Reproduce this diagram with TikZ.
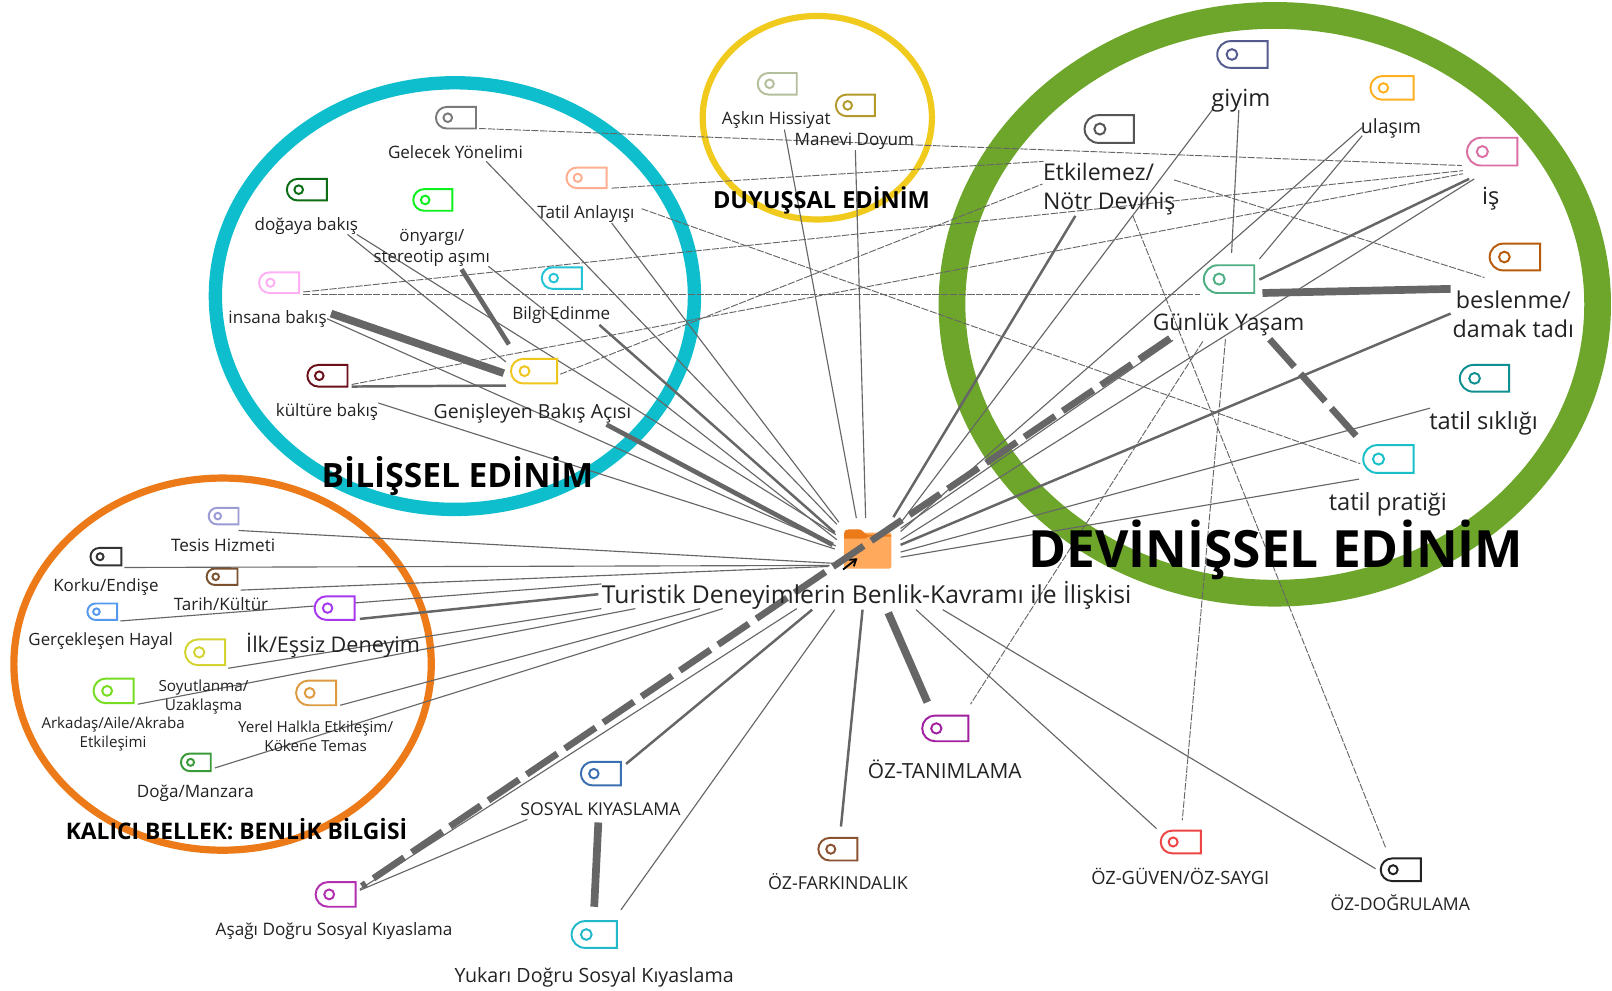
\documentclass[tikz,border=0pt]{standalone}
\usepackage{fontspec}
\setmainfont{Open Sans}
\usetikzlibrary{shapes.misc,arrows.meta}
\definecolor{linkgray}{HTML}{666666}
\definecolor{inkc}{HTML}{222222}
\definecolor{ringgreen}{HTML}{6DA62B}
\definecolor{ringteal}{HTML}{0FBECC}
\definecolor{ringorange}{HTML}{EC7A18}
\definecolor{ringyellow}{HTML}{F0CB1E}
\definecolor{folderbody}{HTML}{FFA95C}
\tikzset{
  x=1pt,y=-1pt,
  ln/.style={draw=linkgray,line width=1.1pt},
  lnm/.style={draw=linkgray,line width=2.4pt},
  lnt/.style={draw=linkgray,line width=4.5pt},
  lnx/.style={draw=linkgray,line width=7.5pt},
  lnd/.style={draw=linkgray,line width=0.9pt,dash pattern=on 7pt off 1.5pt},
  lnthickdash/.style={draw=linkgray,line width=6.5pt,dash pattern=on 36pt off 9pt},
  tagbox/.style={rounded rectangle,rounded rectangle right arc=none,inner sep=0pt,fill=white,line width=1.9pt},
  lbl/.style={text=inkc,inner sep=0pt,align=center,font=\fontsize{#1}{#1}\selectfont},
  lbltwo/.style 2 args={text=inkc,inner sep=0pt,align=center,font=\fontsize{#1}{#2}\selectfont},
  head/.style={text=black,inner sep=0pt,align=center,font=\fontsize{#1}{#1}\bfseries\selectfont},
}
% name, x-left, y-top, x-right, y-bottom, colour
\newcommand{\tagicon}[6]{%
  \pgfmathsetmacro{\tw}{#4-#2}\pgfmathsetmacro{\tht}{#5-#3}%
  \pgfmathsetmacro{\tcx}{(#2+#4)/2}\pgfmathsetmacro{\tcy}{(#3+#5)/2}%
  \pgfmathsetmacro{\hx}{#2+0.55*\tht}\pgfmathsetmacro{\hr}{0.2*\tht}%
  \definecolor{tagc}{HTML}{#6}%
  \node[tagbox,draw=tagc,minimum width=\tw pt,minimum height=\tht pt] (#1) at (\tcx,\tcy) {};%
  \draw[draw=tagc,line width=1.9pt] (\hx,\tcy) circle[radius=\hr pt];%
}
\newcommand{\linkends}[3]{\coordinate (#1a) at (#2);\coordinate (#1b) at (#3);}
\begin{document}
\begin{tikzpicture}
\useasboundingbox (0,0) rectangle (1568,963);
\fill[white] (0,0) rectangle (1568,963);
\begin{scope}
\clip (0,0) rectangle (1568,963);
\draw[draw=ringgreen,line width=26pt] (1240,296) ellipse[x radius=314pt,y radius=281pt];
\draw[draw=ringteal,line width=13pt] (442.5,288) ellipse[x radius=233pt,y radius=207.5pt];
\draw[draw=ringorange,line width=7pt] (216.5,646) ellipse[x radius=203pt,y radius=181pt];
\draw[draw=ringyellow,line width=6pt] (795,114.5) ellipse[x radius=111.5pt,y radius=99pt];
\end{scope}
% link ends
\linkends{a1}{473,157}{814,510}
\linkends{a2}{595,217}{816,508}
\linkends{a3}{347,228}{813,520}
\linkends{a4}{475,259}{814,525}
\linkends{a5}{583,316}{812,518}
\linkends{a6}{318,310}{813,531}
\linkends{a7}{590,413}{810,530}
\linkends{a8}{368,392}{812,534}
\linkends{a9}{763,126}{833,504}
\linkends{a10}{832,146}{842,504}
\linkends{b1}{1046,210}{869,503}
\linkends{b2}{1180,106}{875,510}
\linkends{b3}{1325,124}{876,517}
\linkends{b4}{1434,174}{876,525}
\linkends{b5}{1411,305}{876,530}
\linkends{b6}{1391,397}{876,537}
\linkends{b7}{1322,466}{876,542}
\linkends{b8}{1141,331}{876,514}
\linkends{c1}{232,516}{812,548}
\linkends{c2}{121,552}{807,550}
\linkends{c3}{234,574}{806,551}
\linkends{c4}{117,604}{585,568}
\linkends{c5}{350,602}{582,578}
\linkends{c6}{222,650}{585,592}
\linkends{c7}{134,685}{618,592}
\linkends{c8}{331,686}{681,592}
\linkends{c9}{209,747}{703,592}
\linkends{d1}{350,865}{775,592}
\linkends{d2}{609,743}{790,593}
\linkends{d3}{604,885}{812,593}
\linkends{d4}{818,804}{839,593}
\linkends{d5}{864,596}{902,683}
\linkends{d6}{891,593}{1125,806}
\linkends{d7}{917,593}{1338,845}
\linkends{e1}{338,228}{492,352}
\linkends{e2}{322,305}{490,363}
\linkends{e3}{449,262}{495,335}
\linkends{e4}{342,376}{492,375}
\linkends{f1}{1205,107}{1198,246}
\linkends{f2}{1325,132}{1225,252}
\linkends{f3}{1429,174}{1225,272}
\linkends{f4}{1411,281}{1228,285}
\linkends{f5}{1235,330}{1320,425}
\linkends{g1}{1138,329}{352,862}
\linkends{g2}{350,866}{513,797}
\linkends{g3}{582,800}{578,882}
\linkends{h1}{466,125}{1422,161}
\linkends{h2}{595,183}{1015,157}
\linkends{h3}{624,203}{1323,451}
\linkends{h4}{295,284}{1423,166}
\linkends{h5}{295,286}{1167,286}
\linkends{h6}{342,374}{1423,169}
\linkends{h7}{545,364}{1014,179}
\linkends{h8}{1142,175}{1444,270}
\linkends{h9}{1102,210}{1348,825}
\linkends{h10}{1192,330}{1150,798}
\linkends{h11}{1170,332}{944,685}
% hub folder
\node[fill=folderbody,inner sep=0pt,minimum width=46pt,minimum height=35pt,rounded corners=1.5pt] (hub) at (844,535.5) {};
\fill[fill=ringorange] (821,524) -- (821,519) .. controls (821,516.5) and (822.5,515) .. (825,515) -- (836,515) .. controls (839,515) and (841,520) .. (844,520) -- (865,520) .. controls (866.5,520) and (867,521) .. (867,522) -- (845,522) -- (841,524) -- cycle;
\coordinate (arrowa) at (820,554);
\coordinate (arrowb) at (834,543);
\draw[draw=black,line width=1.8pt,-{Straight Barb[length=6pt,width=8pt]}] (arrowa) -- (arrowb);
% links
\foreach \k in {a1,a2,a3,a4,a6,a8,a9,a10,b2,b3,b4,b6,b7,b8,c1,c2,c3,c4,c6,c7,c8,c9,d1,e1,f1,f2,g2,d3,d6,d7}
  {\draw[ln] (\k a) -- (\k b);}
\foreach \k in {a5,b1,b5,c5,d2,d4,e4,f3}
  {\draw[lnm] (\k a) -- (\k b);}
\draw[lnt] (a7a) -- (a7b);
\draw[lnt] (e3a) -- (e3b);
\draw[lnx] (d5a) -- (d5b);
\draw[lnx] (e2a) -- (e2b);
\draw[lnx] (f4a) -- (f4b);
\draw[lnx] (g3a) -- (g3b);
\foreach \k in {h1,h2,h3,h4,h5,h6,h7,h8,h9,h10,h11}
  {\draw[lnd] (\k a) -- (\k b);}
\draw[lnthickdash] (g1a) -- (g1b);
\draw[lnthickdash] (f5a) -- (f5b);
% Bilissel tags
\tagicon{tGelecek}{424}{104}{463}{125}{7A7A7A}
\tagicon{tTatilA}{551}{163}{590}{183}{FFAE90}
\tagicon{tDogaya}{279}{174}{318}{195}{0B6E14}
\tagicon{tOnyargi}{402}{184}{440}{205}{0EF01E}
\tagicon{tBilgi}{527}{260}{566}{281}{22C4D6}
\tagicon{tInsana}{252}{265}{291}{285}{FFB0F5}
\tagicon{tGenis}{497}{349}{542}{373}{F0C51C}
\tagicon{tKultur}{299}{355}{338}{376}{6B0F1A}
% Duyussal tags
\tagicon{tAsk}{737}{71}{775}{92}{B4BF9C}
\tagicon{tManevi}{813}{92}{851}{113}{B39A2C}
% Devinissel tags
\tagicon{tGiyim}{1184}{40}{1233}{66}{565B8F}
\tagicon{tUlasim}{1333}{74}{1375}{97}{FFB020}
\tagicon{tEtki}{1055}{112}{1103}{139}{555555}
\tagicon{tIs}{1427}{134}{1476}{161}{DB6FA4}
\tagicon{tBes}{1449}{237}{1498}{263}{B85C0B}
\tagicon{tSik}{1420}{355}{1468}{381}{0F8F8F}
\tagicon{tPrat}{1326}{433}{1375}{460}{19BFC9}
\tagicon{tGunluk}{1171}{258}{1220}{285}{4FAF84}
% Kalici tags
\tagicon{tTesis}{203}{494}{232}{510}{9B9BD6}
\tagicon{tKorku}{88}{533}{118}{550}{333333}
\tagicon{tTarih}{201}{553}{231}{569}{7B5230}
\tagicon{tGercek}{85}{587}{114}{603}{5599EE}
\tagicon{tIlk}{306}{580}{345}{603}{A838F0}
\tagicon{tSoy}{180}{622}{219}{647}{D4D430}
\tagicon{tArk}{91}{660}{130}{684}{77DD22}
\tagicon{tYerel}{288}{662}{327}{686}{DD9A40}
\tagicon{tDoga}{176}{733}{205}{750}{3A9A3A}
% bottom tags
\tagicon{tSosyal}{565}{741}{604}{764}{3B70B0}
\tagicon{tAsagi}{307}{858}{346}{882}{B030B0}
\tagicon{tYukari}{556}{896}{600}{922}{22B8CC}
\tagicon{tTanim}{897}{696}{942}{721}{A020A0}
\tagicon{tFark}{796}{815}{834}{837}{8B5230}
\tagicon{tGuven}{1129}{808}{1168}{830}{EE4444}
\tagicon{tDogru}{1343}{835}{1382}{857}{222222}
% labels
\node[lbl=16.6] (nGelecek) at (443,148) {Gelecek Yönelimi};
\node[lbl=16.6] (nTatilA) at (570,208) {Tatil Anlayışı};
\node[lbl=16.6] (nDogaya) at (298,220) {doğaya bakış};
\node[lbltwo={16.4}{21}] (nOnyargi) at (420,241) {önyargı/\\stereotip aşımı};
\node[lbl=16.6] (nBilgi) at (546,306) {Bilgi Edinme};
\node[lbl=16.6] (nInsana) at (270,310) {insana bakış};
\node[lbl=18.9] (nGenis) at (518,402) {Genişleyen Bakış Açısı};
\node[lbl=16.6] (nKultur) at (318,401) {kültüre bakış};
\node[head=32.6] (hBilissel) at (445,463) {BİLİŞSEL EDİNİM};
\node[lbl=16.6] (nAsk) at (755,117) {Aşkın Hissiyat};
\node[lbl=16.6] (nManevi) at (831,137) {Manevi Doyum};
\node[head=22.9] (hDuyussal) at (799,195) {DUYUŞSAL EDİNİM};
\node[lbl=23] (nGiyim) at (1207,98) {giyim};
\node[lbl=19] (nUlasim) at (1353,125) {ulaşım};
\node[lbltwo={22.4}{28},align=left] (nEtki) at (1079,184) {Etkilemez/\\Nötr Deviniş};
\node[lbl=23] (nIs) at (1450,193) {iş};
\node[lbltwo={22.6}{28}] (nBes) at (1472,306) {beslenme/\\damak tadı};
\node[lbl=23] (nSik) at (1443,412) {tatil sıklığı};
\node[lbl=23] (nPrat) at (1350,491) {tatil pratiği};
\node[lbl=22.2] (nGunluk) at (1195,316) {Günlük Yaşam};
\node[head=50] (hDevin) at (1241,535) {DEVİNİŞSEL EDİNİM};
\node[lbl=24] (nHub) at (843,579) {Turistik Deneyimlerin Benlik-Kavramı ile İlişkisi};
\node[lbl=16.7] (nTesis) at (217,530) {Tesis Hizmeti};
\node[lbl=16.5] (nKorku) at (103,571) {Korku/Endişe};
\node[lbl=16.6] (nTarih) at (215,588) {Tarih/Kültür};
\node[lbl=16.4] (nGercek) at (98,624) {Gerçekleşen Hayal};
\node[lbl=21] (nIlk) at (324,628) {İlk/Eşsiz Deneyim};
\node[lbltwo={14.9}{19}] (nSoy) at (198,678) {Soyutlanma/\\Uzaklaşma};
\node[lbltwo={14.7}{18}] (nArk) at (110,714) {Arkadaş/Aile/Akraba\\Etkileşimi};
\node[lbltwo={14.8}{18}] (nYerel) at (307,716) {Yerel Halkla Etkileşim/\\Kökene Temas};
\node[lbl=16.6] (nDoga) at (190,772) {Doğa/Manzara};
\node[head=22.2] (hKalici) at (230,806) {KALICI BELLEK: BENLİK BİLGİSİ};
\node[lbl=17.2] (nSosyal) at (584,787) {SOSYAL KIYASLAMA};
\node[lbl=16.7] (nAsagi) at (325,906) {Aşağı Doğru Sosyal Kıyaslama};
\node[lbl=19.1] (nYukari) at (578,951) {Yukarı Doğru Sosyal Kıyaslama};
\node[lbl=20.3] (nTanim) at (919,748) {ÖZ-TANIMLAMA};
\node[lbl=17.4] (nFark) at (815,858) {ÖZ-FARKINDALIK};
\node[lbl=17.8] (nGuven) at (1148,852) {ÖZ-GÜVEN/ÖZ-SAYGI};
\node[lbl=17.1] (nDogru) at (1362,878) {ÖZ-DOĞRULAMA};
\end{tikzpicture}
\end{document}
